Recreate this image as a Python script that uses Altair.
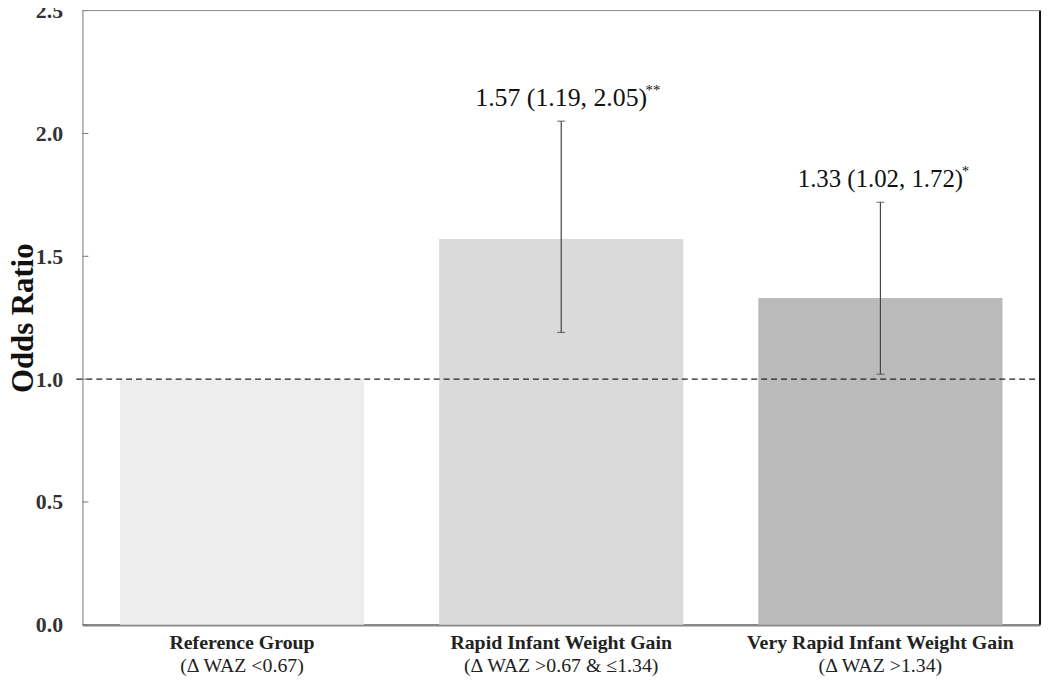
import altair as alt
import pandas as pd

categories = ["Reference Group", "Rapid Infant Weight Gain", "Very Rapid Infant Weight Gain"]
subtitles = ["(Δ WAZ <0.67)", "(Δ WAZ >0.67 & ≤1.34)", "(Δ WAZ >1.34)"]
odds = [1.00, 1.57, 1.33]
lower = [None, 1.19, 1.02]
upper = [None, 2.05, 1.72]
labels = ["", "1.57 (1.19, 2.05)", "1.33 (1.02, 1.72)"]
stars = ["", "**", "*"]
bar_colors = ["#ededed", "#dadada", "#bababa"]
y_ticks = [0.0, 0.5, 1.0, 1.5, 2.0, 2.5]
reference_line = [1.0]

W, H = 965, 619
FONT = "Liberation Serif"

df = pd.DataFrame({
    "cat": categories, "sub": subtitles, "odds": odds,
    "lo": lower, "hi": upper, "label": labels, "stars": stars,
})
ticks_df = pd.DataFrame({"v": y_ticks})
ref_df = pd.DataFrame({"v": reference_line})

xenc = alt.X("cat:N", sort=categories,
             scale=alt.Scale(domain=categories, paddingInner=0.235, paddingOuter=0.1175),
             axis=alt.Axis(labels=False, ticks=False, title=None,
                           domainColor="#888", domainWidth=2.5))
yscale = alt.Scale(domain=[0, 2.5], nice=False)

bars = alt.Chart(df).mark_bar().encode(
    x=xenc,
    y=alt.Y("odds:Q", scale=yscale,
            axis=alt.Axis(values=y_ticks, format=".1f", grid=False, ticks=False,
                          labelFont=FONT, labelFontSize=22, labelFontWeight="bold",
                          labelColor="#333", labelPadding=20,
                          domainColor="#777", domainWidth=1,
                          title="Odds Ratio", titleFont=FONT, titleFontSize=31,
                          titleFontWeight="bold", titleColor="#111",
                          titleAngle=-90, titleX=-50, titleY=H / 2,
                          titleAlign="center", titleBaseline="alphabetic")),
    color=alt.Color("cat:N", scale=alt.Scale(domain=categories, range=bar_colors), legend=None),
)

err_base = alt.Chart(df).transform_filter("isValid(datum.lo)")
err = err_base.mark_rule(color="#444", strokeWidth=1.2).encode(
    x=alt.X("cat:N", sort=categories), y=alt.Y("lo:Q", scale=yscale), y2="hi:Q")
cap_lo = err_base.mark_tick(color="#444", thickness=1.2, size=8).encode(
    x=alt.X("cat:N", sort=categories), y=alt.Y("lo:Q", scale=yscale))
cap_hi = err_base.mark_tick(color="#444", thickness=1.2, size=8).encode(
    x=alt.X("cat:N", sort=categories), y=alt.Y("hi:Q", scale=yscale))

refline = alt.Chart(ref_df).mark_rule(color="#222", strokeWidth=1.3, strokeDash=[6, 4]).encode(
    y=alt.Y("v:Q", scale=yscale), x=alt.value(-6), x2=alt.value(W))

inticks = alt.Chart(ticks_df).mark_rule(color="#777", strokeWidth=1).encode(
    y=alt.Y("v:Q", scale=yscale), x=alt.value(0), x2=alt.value(6))

right_border = alt.Chart(ref_df).mark_rule(color="#111", strokeWidth=2).encode(
    x=alt.value(W), y=alt.value(0), y2=alt.value(H))
top_border = alt.Chart(ref_df).mark_rule(color="#888", strokeWidth=1).encode(
    x=alt.value(0), x2=alt.value(W), y=alt.value(0))

layers = [bars, err, cap_lo, cap_hi, refline, inticks, right_border, top_border]

main_sizes = [26, 26, 25]
star_dx = [0, 85, 82]
for i, cat in enumerate(categories):
    if not labels[i]:
        continue
    sub = alt.Chart(df).transform_filter(alt.datum.cat == cat)
    layers.append(sub.mark_text(font=FONT, fontSize=main_sizes[i], color="#111",
                                align="center", baseline="alphabetic", dy=-15).encode(
        x=alt.X("cat:N", sort=categories), y=alt.Y("hi:Q", scale=yscale), text="label:N"))
    layers.append(sub.mark_text(font=FONT, fontSize=15, color="#111",
                                align="left", baseline="alphabetic", dx=star_dx[i], dy=-26).encode(
        x=alt.X("cat:N", sort=categories), y=alt.Y("hi:Q", scale=yscale), text="stars:N"))

xlab1 = alt.Chart(df).mark_text(font=FONT, fontSize=20, fontWeight="bold", color="#222",
                                baseline="alphabetic").encode(
    x=alt.X("cat:N", sort=categories), y=alt.value(H + 24), text="cat:N")
xlab2 = alt.Chart(df).mark_text(font=FONT, fontSize=20, color="#222",
                                baseline="alphabetic").encode(
    x=alt.X("cat:N", sort=categories), y=alt.value(H + 48), text="sub:N")
layers += [xlab1, xlab2]

chart = alt.layer(*layers).properties(
    width=W, height=H,
    autosize=alt.AutoSizeParams(type="none"),
    padding={"left": 75, "top": 0, "right": 2, "bottom": 57},
).configure_view(stroke=None)

chart.save("out.html", embed_options={"renderer": "svg", "actions": False})
